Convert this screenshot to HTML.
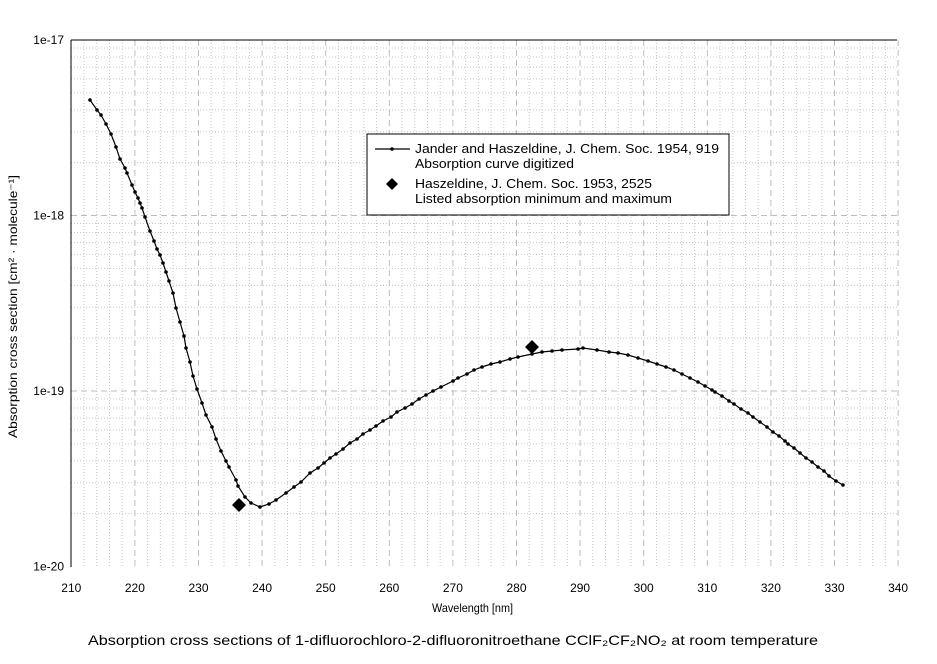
<!DOCTYPE html>
<html><head><meta charset="utf-8"><style>
html,body{margin:0;padding:0;background:#fff;}
svg text{font-family:"Liberation Sans",Arial,sans-serif;fill:#000;}
</style></head><body>
<svg width="937" height="659" viewBox="0 0 937 659" xmlns="http://www.w3.org/2000/svg">
<rect width="937" height="659" fill="#fff"/>
<g id="grid"></g>
<line x1="71" y1="40" x2="897" y2="40" stroke="#000" stroke-width="1"/>
<line x1="71" y1="40" x2="71" y2="567" stroke="#000" stroke-width="1"/>
<g id="ticks" font-size="12"></g>
<polyline id="curve" fill="none" stroke="#000" stroke-width="1.2"/>
<g id="dots"></g>
<path d="M239 498 L246 505 L239 512 L232 505 Z" fill="#000"/>
<path d="M532 340 L539 347 L532 354 L525 347 Z" fill="#000"/>
<rect x="367" y="134" width="362" height="81" fill="#fff" stroke="#000" stroke-width="1"/>
<line x1="375" y1="149" x2="410" y2="149" stroke="#000" stroke-width="1.2"/>
<circle cx="392" cy="149" r="1.8" fill="#000"/>
<path d="M392 178 L398 184 L392 190 L386 184 Z" fill="#000"/>
<text x="415" y="153" font-size="13" textLength="304" lengthAdjust="spacingAndGlyphs">Jander and Haszeldine, J. Chem. Soc. 1954, 919</text>
<text x="415" y="168" font-size="13" textLength="159" lengthAdjust="spacingAndGlyphs">Absorption curve digitized</text>
<text x="415" y="188" font-size="13" textLength="237" lengthAdjust="spacingAndGlyphs">Haszeldine, J. Chem. Soc. 1953, 2525</text>
<text x="415" y="203" font-size="13" textLength="257" lengthAdjust="spacingAndGlyphs">Listed absorption minimum and maximum</text>
<text x="432" y="612" font-size="12" textLength="81" lengthAdjust="spacingAndGlyphs">Wavelength [nm]</text>
<text transform="translate(17,438) rotate(-90)" font-size="12" textLength="263" lengthAdjust="spacingAndGlyphs">Absorption cross section [cm² · molecule⁻¹]</text>
<text x="88" y="645" font-size="14" textLength="730" lengthAdjust="spacingAndGlyphs">Absorption cross sections of 1-difluorochloro-2-difluoronitroethane CClF₂CF₂NO₂ at room temperature</text>
</svg>
<script>
var ns="http://www.w3.org/2000/svg";
function el(p,t,a){var e=document.createElementNS(ns,t);for(var k in a)e.setAttribute(k,a[k]);p.appendChild(e);return e;}
var g=document.getElementById('grid'),tk=document.getElementById('ticks');
var X0=71.3,SX=6.36,Y0=40,DEC=175.5;
function X(v){return X0+(v-210)*SX;}
for(var v=212;v<340;v+=2){if(v%10==0)continue;el(g,'line',{x1:X(v),y1:40,x2:X(v),y2:567,stroke:'#c8c8c8','stroke-dasharray':'1,2'});}
for(var d=0;d<3;d++)for(var m=2;m<10;m++){var y=Y0+DEC*(d+1)-DEC*Math.log10(m);el(g,'line',{x1:71,y1:y,x2:897,y2:y,stroke:'#c8c8c8','stroke-dasharray':'1,2'});}
for(var v=220;v<=340;v+=10){el(g,'line',{x1:X(v),y1:40,x2:X(v),y2:567,stroke:'#bdbdbd','stroke-dasharray':'6,4'});}
for(var d=1;d<3;d++){var y=Y0+DEC*d;el(g,'line',{x1:71,y1:y,x2:897,y2:y,stroke:'#bdbdbd','stroke-dasharray':'6,4'});}
for(var v=210;v<=340;v+=10){var t=el(tk,'text',{x:X(v),y:592,'text-anchor':'middle'});t.textContent=v;}
var labs=['1e-17','1e-18','1e-19','1e-20'];
for(var d=0;d<4;d++){var t=el(tk,'text',{x:64,y:Y0+DEC*d+4,'text-anchor':'end'});t.textContent=labs[d];}
var pts=[[90,100],[97,110],[101,115],[106,124],[111,134],[116,147],[120,159],[125,168],[127,173],[132,185],[135,192],[138,198],[140,203],[142,208],[145,217],[150,231],[154,241],[157,249],[160,255],[163,263],[166,272],[169,281],[173,293],[176,308],[180,322],[184,336],[186,348],[190,362],[193,376],[197,389],[202,403],[206,415],[212,427],[216,439],[221,451],[226,461],[229,467],[236,480],[238,486],[245,497],[251,503],[260,507],[269,504],[276,500],[286,493],[294,487],[301,482],[310,473],[318,468],[324,463],[330,458],[336,454],[343,449],[350,443],[357,439],[363,434],[370,430],[376,426],[383,421],[391,417],[397,412],[405,408],[412,404],[419,399],[426,395],[433,391],[441,387],[453,381],[458,378],[467,374],[474,370],[482,367],[491,364],[500,362],[510,359],[518,357],[532,354],[542,352],[552,351],[562,350],[578,349],[583,348],[597,350],[609,352],[618,353],[628,355],[638,358],[648,361],[657,364],[666,367],[674,370],[682,374],[690,378],[698,382],[705,386],[712,390],[715,392],[722,396],[729,401],[734,404],[741,409],[748,413],[753,417],[760,422],[767,427],[773,432],[779,436],[785,441],[788,444],[794,448],[800,453],[806,458],[812,462],[818,467],[824,471],[829,476],[836,481],[843,485]];
document.getElementById('curve').setAttribute('points',pts.map(function(p){return p.join(',');}).join(' '));
var dg=document.getElementById('dots');
pts.forEach(function(p){el(dg,'circle',{cx:p[0],cy:p[1],r:1.8,fill:'#000'});});
</script>
</body></html>
